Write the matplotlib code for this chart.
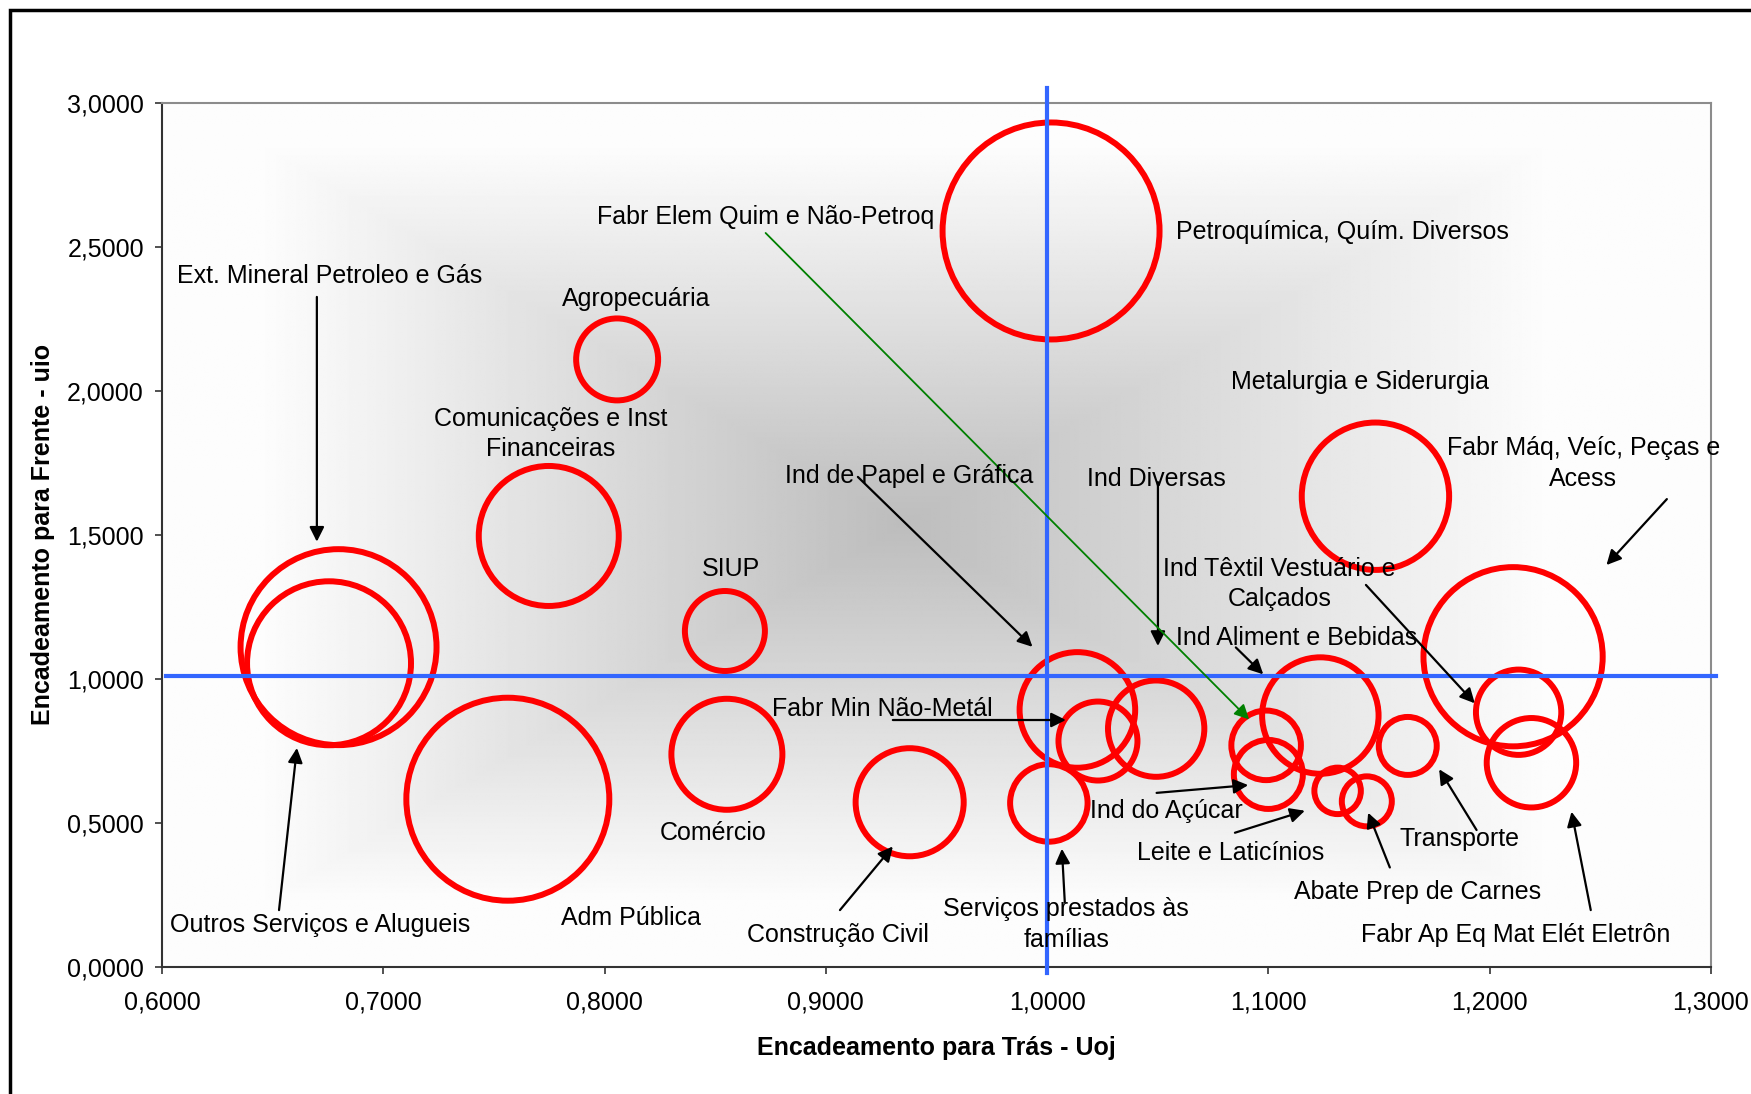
import numpy as np
import matplotlib.pyplot as plt
from matplotlib.patches import Rectangle

plt.rcParams['font.family'] = ['Liberation Sans', 'DejaVu Sans']

# setores da matriz insumo-produto
setores = ['Agropecuária', 'Ext. Mineral Petroleo e Gás', 'Comunicações e Inst\nFinanceiras',
           'SIUP', 'Comércio', 'Adm Pública', 'Outros Serviços e Alugueis', 'Construção Civil',
           'Serviços prestados às\nfamílias', 'Fabr Min Não-Metál', 'Ind de Papel e Gráfica',
           'Fabr Elem Quim e Não-Petroq', 'Petroquímica, Quím. Diversos', 'Ind Diversas',
           'Ind Têxtil Vestuário e\nCalçados', 'Ind Aliment e Bebidas', 'Metalurgia e Siderurgia',
           'Fabr Máq, Veíc, Peças e\nAcess', 'Ind do Açúcar', 'Leite e Laticínios',
           'Abate Prep de Carnes', 'Transporte', 'Fabr Ap Eq Mat Elét Eletrôn']

# encadeamento para trás (Uoj)
uoj = [0.8057, 0.6798, 0.7748, 0.8544, 0.8553, 0.7563, 0.6755, 0.9379,
       1.0008, 1.0230, 1.0137, 1.0990, 1.0018, 1.0493, 1.2131, 1.1235,
       1.1484, 1.2106, 1.1000, 1.1313, 1.1445, 1.1630, 1.2189]

# encadeamento para frente (uio)
uio = [2.108, 1.109, 1.495, 1.165, 0.737, 0.581, 1.053, 0.5705,
       0.568, 0.783, 0.891, 0.768, 2.554, 0.826, 0.883, 0.8715,
       1.633, 1.0757, 0.667, 0.610, 0.5736, 0.766, 0.7076]

# peso de cada setor (tamanho da bolha)
peso = [16.8, 96.0, 49.0, 16.0, 30.8, 103.0, 67.2, 29.2,
        15.0, 15.6, 33.4, 12.1, 117.7, 23.2, 18.2, 33.9,
        54.3, 80.3, 11.9, 5.4, 6.25, 8.4, 20.0]

media_uoj = 1.0
media_uio = 1.01

xticks = [0.6, 0.7, 0.8, 0.9, 1.0, 1.1, 1.2, 1.3]
yticks = [0.0, 0.5, 1.0, 1.5, 2.0, 2.5, 3.0]

# posicao dos rotulos: setor -> (x, y, alinhamento)
rotulos = {
    'Agropecuária': (0.8142, 2.318, 'center'),
    'Ext. Mineral Petroleo e Gás': (0.6756, 2.398, 'center'),
    'Comunicações e Inst\nFinanceiras': (0.7756, 1.849, 'center'),
    'SIUP': (0.8573, 1.382, 'center'),
    'Comércio': (0.8493, 0.4635, 'center'),
    'Adm Pública': (0.8119, 0.168, 'center'),
    'Outros Serviços e Alugueis': (0.6716, 0.1455, 'center'),
    'Construção Civil': (0.9057, 0.110, 'center'),
    'Serviços prestados às\nfamílias': (1.0087, 0.145, 'center'),
    'Fabr Min Não-Metál': (0.9257, 0.894, 'center'),
    'Ind de Papel e Gráfica': (0.9378, 1.704, 'center'),
    'Fabr Elem Quim e Não-Petroq': (0.8727, 2.603, 'center'),
    'Petroquímica, Quím. Diversos': (1.0582, 2.551, 'left'),
    'Ind Diversas': (1.0496, 1.693, 'center'),
    'Ind Têxtil Vestuário e\nCalçados': (1.1051, 1.328, 'center'),
    'Ind Aliment e Bebidas': (1.1127, 1.142, 'center'),
    'Metalurgia e Siderurgia': (1.1413, 2.031, 'center'),
    'Fabr Máq, Veíc, Peças e\nAcess': (1.2423, 1.747, 'center'),
    'Ind do Açúcar': (1.0541, 0.541, 'center'),
    'Leite e Laticínios': (1.0829, 0.394, 'center'),
    'Abate Prep de Carnes': (1.1676, 0.2587, 'center'),
    'Transporte': (1.1863, 0.444, 'center'),
    'Fabr Ap Eq Mat Elét Eletrôn': (1.2116, 0.110, 'center'),
}

# setas: setor -> (x inicio, y inicio, x ponta, y ponta)
setas = {
    'Ext. Mineral Petroleo e Gás': (0.670, 2.325, 0.670, 1.475),
    'Outros Serviços e Alugueis': (0.6529, 0.196, 0.661, 0.759),
    'Construção Civil': (0.9064, 0.196, 0.9303, 0.417),
    'Serviços prestados às\nfamílias': (1.008, 0.224, 1.0067, 0.409),
    'Fabr Min Não-Metál': (0.9303, 0.856, 1.0085, 0.856),
    'Ind de Papel e Gráfica': (0.9145, 1.700, 0.9934, 1.110),
    'Ind Diversas': (1.0501, 1.682, 1.0501, 1.113),
    'Ind Aliment e Bebidas': (1.0853, 1.108, 1.0977, 1.0146),
    'Ind Têxtil Vestuário e\nCalçados': (1.1441, 1.325, 1.1933, 0.914),
    'Fabr Máq, Veíc, Peças e\nAcess': (1.2801, 1.623, 1.2528, 1.394),
    'Ind do Açúcar': (1.0495, 0.603, 1.0909, 0.630),
    'Leite e Laticínios': (1.0849, 0.4646, 1.1165, 0.541),
    'Abate Prep de Carnes': (1.1549, 0.344, 1.1451, 0.534),
    'Transporte': (1.1941, 0.474, 1.1772, 0.685),
    'Fabr Ap Eq Mat Elét Eletrôn': (1.2457, 0.196, 1.237, 0.5375),
}
seta_verde = (0.8728, 2.547, 1.0913, 0.858)

dpi = 100
fig = plt.figure(figsize=(17.51, 10.94), dpi=dpi)
ax = fig.add_axes([0.0925, 0.1165, 0.8846, 0.7898])

# fundo em degrade cinza a partir do centro
gx = np.linspace(0.6, 1.3, 700)
gy = np.linspace(0, 3, 500)
GX, GY = np.meshgrid(gx, gy)
t = np.maximum(np.abs(GX - 0.935) / 0.29, np.abs(GY - 1.536) / 1.3125)
cinza = 0.74 + 0.25 * np.clip(t, 0, 1)
ax.imshow(cinza, extent=[0.6, 1.3, 0, 3], origin='lower', cmap='gray',
          vmin=0, vmax=1, aspect='auto', zorder=0, interpolation='bilinear')

# bolhas
raio_px = 10 * np.sqrt(np.array(peso))
tam = (2 * raio_px * 72 / dpi) ** 2
ax.scatter(uoj, uio, s=tam, facecolors='none', edgecolors='#ff0000',
           linewidths=4.3, zorder=2)

# linhas das medias
ax.plot([media_uoj, media_uoj], [-0.023, 3.05], color='#3366ff', lw=3,
        clip_on=False, zorder=3)
ax.plot([0.602, 1.3023], [media_uio, media_uio], color='#3366ff', lw=3,
        clip_on=False, zorder=3)

for nome, (x, y, ha) in rotulos.items():
    ax.text(x, y, nome, ha=ha, va='center', fontsize=18, linespacing=1.35, zorder=5)

for nome, (x0, y0, x1, y1) in setas.items():
    ax.annotate('', xy=(x1, y1), xytext=(x0, y0), zorder=4,
                arrowprops=dict(arrowstyle='-|>', color='black', lw=1.6,
                                mutation_scale=22, shrinkA=0, shrinkB=0))
x0, y0, x1, y1 = seta_verde
ax.annotate('', xy=(x1, y1), xytext=(x0, y0), zorder=4,
            arrowprops=dict(arrowstyle='-|>', color='#008000', lw=1.3,
                            mutation_scale=22, shrinkA=0, shrinkB=0))

ax.set_xlim(0.6, 1.3)
ax.set_ylim(0, 3)
ax.set_xticks(xticks)
ax.set_yticks(yticks)
ax.set_xticklabels([f'{v:.4f}'.replace('.', ',') for v in xticks])
ax.set_yticklabels([f'{v:.4f}'.replace('.', ',') for v in yticks])
ax.tick_params(axis='both', direction='out', length=5, width=1.2, labelsize=18, color='#333333')
ax.tick_params(axis='x', pad=12)
ax.tick_params(axis='y', pad=8)

for lado in ['left', 'bottom']:
    ax.spines[lado].set_color('#333333')
    ax.spines[lado].set_linewidth(1.5)
for lado in ['top', 'right']:
    ax.spines[lado].set_color('#8c8c8c')
    ax.spines[lado].set_linewidth(1.5)

ax.set_xlabel('Encadeamento para Trás - Uoj', fontsize=18, fontweight='bold', va='baseline')
ax.xaxis.set_label_coords(0.5, -0.1024)
ax.set_ylabel('Encadeamento para Frente - uio', fontsize=18, fontweight='bold', va='baseline')
ax.yaxis.set_label_coords(-0.0721, 0.5)

# moldura externa
fig.patches.append(Rectangle((10 / 1751, -0.2), 1.2, 0.2 + 1 - 10 / 1094,
                             transform=fig.transFigure, fill=False,
                             edgecolor='black', lw=2.5, clip_on=False))

fig.savefig('out.png', dpi=dpi)
